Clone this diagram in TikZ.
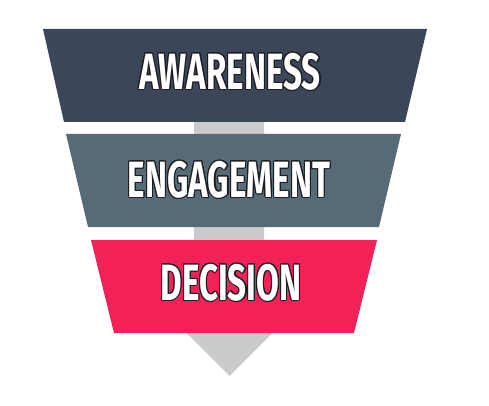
\documentclass[tikz,border=0pt]{standalone}
\usepackage{fontspec}
\usepackage{contour}
\newfontfamily\funnelfont{Fira Sans}[FakeStretch=0.65]
\contourlength{1.1pt}
\definecolor{topblue}{HTML}{3B4659}
\definecolor{midgrey}{HTML}{566B76}
\definecolor{lowred}{HTML}{F22157}
\definecolor{arrowgrey}{HTML}{CBCBCB}
\definecolor{outline}{HTML}{1E1E24}

\begin{document}
\begin{tikzpicture}[x=1pt, y=-1pt, label/.style = {text=white, font=\funnelfont\bfseries\fontsize{51}{51}\selectfont, inner sep=0pt}]
	\useasboundingbox (0,0) rectangle (489,406);
	\fill[arrowgrey] (194,115) -- (264,115) -- (264,320) -- (285.5,320) -- (229.5,376) -- (173.5,320) -- (194,320) -- cycle;
	\fill[topblue] (43,29) -- (427,29) -- (405,122) -- (64,122) -- cycle;
	\fill[midgrey] (66,134) -- (401,134) -- (379,227) -- (88,227) -- cycle;
	\fill[lowred] (91,240) -- (377,240) -- (354,333) -- (114,333) -- cycle;
	\node[label] (awareness) at (230,72) {\contour{outline}{AWARENESS}};
	\node[label] (engagement) at (229,180) {\contour{outline}{ENGAGEMENT}};
	\node[label] (decision) at (231,283) {\contour{outline}{DECISION}};
\end{tikzpicture}
\end{document}
